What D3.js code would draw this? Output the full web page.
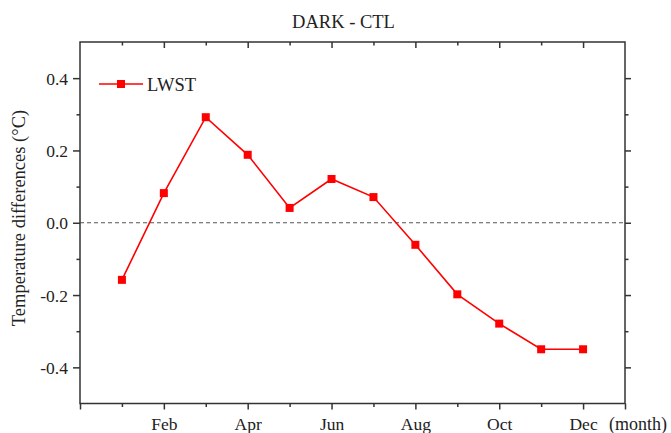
<!DOCTYPE html>
<html>
<head>
<meta charset="utf-8">
<script src="https://cdn.jsdelivr.net/npm/d3@7"></script>
<style>
  html, body { margin: 0; padding: 0; background: #fff; }
  svg { display: block; }
</style>
</head>
<body>
<svg id="chart" width="671" height="433"></svg>
<script>
// ---- data ----
const months = [1, 2, 3, 4, 5, 6, 7, 8, 9, 10, 11, 12];
const monthNames = ["Jan", "Feb", "Mar", "Apr", "May", "Jun", "Jul", "Aug", "Sep", "Oct", "Nov", "Dec"];
const lwst = [-0.158, 0.082, 0.292, 0.188, 0.041, 0.121, 0.071, -0.061, -0.198, -0.279, -0.350, -0.350];
const xMajorTicks = [0, 2, 4, 6, 8, 10, 12];
const xMinorTicks = [1, 3, 5, 7, 9, 11];
const yMajorTicks = [-0.4, -0.2, 0.0, 0.2, 0.4];
const yMinorTicks = [-0.3, -0.1, 0.1, 0.3];
const seriesName = "LWST";
const title = "DARK - CTL";
const yTitle = "Temperature differences (\u00B0C)";
const xUnit = "(month)";

// ---- layout ----
const FONT = '"Liberation Serif", "Times New Roman", serif';
const L = 80, R = 625, T = 42, B = 403.5;
const svg = d3.select("#chart");
const x = d3.scaleLinear().domain([0, 13]).range([L, R]);
const y = d3.scaleLinear().domain([-0.5, 0.5]).range([B, T]);
const axisColor = "#333";
const red = "#ff0000";
const textColor = "#222";

// zero dashed line
svg.append("line")
  .attr("x1", L).attr("x2", R)
  .attr("y1", y(0)).attr("y2", y(0))
  .attr("stroke", "#555").attr("stroke-width", 1)
  .attr("stroke-dasharray", "4,3");

function styleAxis(g) {
  g.select(".domain").remove();
  g.selectAll(".tick line").attr("stroke", axisColor).attr("stroke-width", 1.5);
  g.selectAll(".tick text")
    .style("font-family", FONT).style("font-size", "17.5px").attr("fill", textColor);
}

const labelFor = m => (m >= 1 && m <= 12) ? monthNames[m - 1] : "";
const yFmt = v => d3.format(".1f")(v).replace("\u2212", "-");

// bottom axis
svg.append("g").attr("transform", `translate(0,${B})`)
  .call(d3.axisBottom(x).tickValues(xMajorTicks.concat([13])).tickSize(6).tickFormat(labelFor))
  .call(styleAxis)
  .call(g => g.selectAll(".tick text").attr("y", 26.5).attr("dy", 0));
svg.append("g").attr("transform", `translate(0,${B})`)
  .call(d3.axisBottom(x).tickValues(xMinorTicks).tickSize(3.5).tickFormat(""))
  .call(styleAxis);
// top axis (inward ticks)
svg.append("g").attr("transform", `translate(0,${T})`)
  .call(d3.axisBottom(x).tickValues(xMajorTicks.filter(v => v > 0)).tickSize(6).tickFormat(""))
  .call(styleAxis);
svg.append("g").attr("transform", `translate(0,${T})`)
  .call(d3.axisBottom(x).tickValues(xMinorTicks).tickSize(3.5).tickFormat(""))
  .call(styleAxis);
// left axis
svg.append("g").attr("transform", `translate(${L},0)`)
  .call(d3.axisLeft(y).tickValues(yMajorTicks).tickSize(7).tickPadding(5).tickFormat(yFmt))
  .call(styleAxis)
  .call(g => g.selectAll(".tick text").attr("dy", "0.34em"));
svg.append("g").attr("transform", `translate(${L},0)`)
  .call(d3.axisLeft(y).tickValues(yMinorTicks).tickSize(3.5).tickFormat(""))
  .call(styleAxis);
// right axis (outward ticks)
svg.append("g").attr("transform", `translate(${R},0)`)
  .call(d3.axisRight(y).tickValues(yMajorTicks).tickSize(6).tickFormat(""))
  .call(styleAxis);
svg.append("g").attr("transform", `translate(${R},0)`)
  .call(d3.axisRight(y).tickValues(yMinorTicks).tickSize(3.5).tickFormat(""))
  .call(styleAxis);

// frame
svg.append("rect")
  .attr("x", L).attr("y", T).attr("width", R - L).attr("height", B - T)
  .attr("fill", "none").attr("stroke", axisColor).attr("stroke-width", 1.5);

// line + markers
const data = months.map((m, i) => ({ m, v: lwst[i] }));
svg.append("path").datum(data)
  .attr("fill", "none").attr("stroke", red).attr("stroke-width", 1.6)
  .attr("d", d3.line().x(d => x(d.m)).y(d => y(d.v)));
const ms = 8;
svg.append("g").selectAll("rect").data(data).join("rect")
  .attr("x", d => x(d.m) - ms / 2).attr("y", d => y(d.v) - ms / 2)
  .attr("width", ms).attr("height", ms).attr("fill", red);

// legend
const lg = svg.append("g");
lg.append("line").attr("x1", 99).attr("x2", 143).attr("y1", 84).attr("y2", 84)
  .attr("stroke", red).attr("stroke-width", 1.6);
lg.append("rect").attr("x", 121 - ms / 2).attr("y", 84 - ms / 2)
  .attr("width", ms).attr("height", ms).attr("fill", red);
lg.append("text").attr("x", 147).attr("y", 90.5)
  .style("font-family", FONT).style("font-size", "18.5px").attr("fill", textColor)
  .text(seriesName);

// title
svg.append("text").attr("x", 343.5).attr("y", 27.5).attr("text-anchor", "middle")
  .style("font-family", FONT).style("font-size", "18.5px").attr("fill", textColor)
  .text(title);

// y title
svg.append("text")
  .attr("transform", `translate(25,218) rotate(-90)`)
  .attr("text-anchor", "middle")
  .style("font-family", FONT).style("font-size", "18.5px").attr("fill", textColor)
  .text(yTitle);

// x unit
svg.append("text").attr("x", 609).attr("y", 430)
  .style("font-family", FONT).style("font-size", "18px").attr("fill", textColor)
  .text(xUnit);
</script>
</body>
</html>
